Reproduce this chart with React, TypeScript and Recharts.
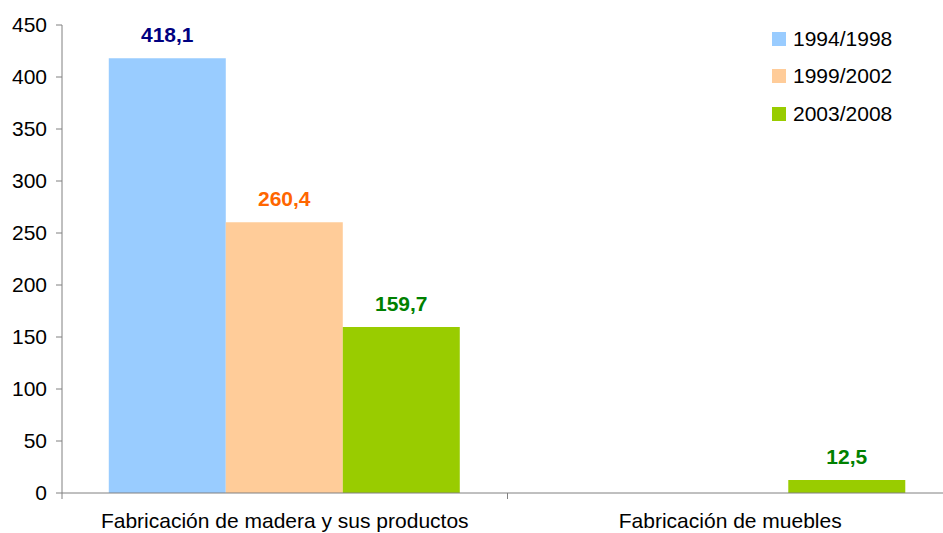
import React from "react";
import { Bar, BarChart, LabelList, XAxis, YAxis } from "recharts";

const categories = ["Fabricación de madera y sus productos", "Fabricación de muebles"];
const serie1994 = [418.1, null];
const serie1999 = [260.4, null];
const serie2003 = [159.7, 12.5];
const yTicks = [0, 50, 100, 150, 200, 250, 300, 350, 400, 450];

const series = [
  { key: "s1", name: "1994/1998", values: serie1994, fill: "#99CCFF", label: "#000080" },
  { key: "s2", name: "1999/2002", values: serie1999, fill: "#FFCC99", label: "#FF6600" },
  { key: "s3", name: "2003/2008", values: serie2003, fill: "#99CC00", label: "#008000" },
];

const data = categories.map((name, i) => {
  const row: any = { name };
  series.forEach((s) => (row[s.key] = s.values[i]));
  return row;
});

const FONT = "'Liberation Sans', Arial, sans-serif";
const W = 943;
const H = 533;
const LEFT = 62;
// plot runs a bit past the right edge, like the original
const RIGHT_M = -10;
const band = (W - LEFT - RIGHT_M) / categories.length;

const CatTick = ({ x, y, payload, index }: any) => (
  <g>
    <line x1={x - band / 2} x2={x - band / 2} y1={y - 8} y2={y - 2} stroke="#808080" />
    {index === categories.length - 1 && (
      <line x1={x + band / 2} x2={x + band / 2} y1={y - 8} y2={y - 2} stroke="#808080" />
    )}
    <text x={x} y={y + 27} textAnchor="middle" fontSize={21} fill="#000" fontFamily={FONT}>
      {payload.value}
    </text>
  </g>
);

const fmt = (v: any) => (v == null ? "" : String(v).replace(".", ","));

const App = () => (
  <div style={{ position: "absolute", left: 0, top: 0, width: W, height: H, overflow: "hidden" }}>
    <BarChart
      width={W}
      height={H}
      data={data}
      margin={{ top: 25, right: RIGHT_M, left: 0, bottom: 0 }}
      barCategoryGap="10.5%"
      barGap={0}
    >
      <XAxis
        dataKey="name"
        height={40}
        tickLine={false}
        axisLine={{ stroke: "#808080" }}
        tick={<CatTick />}
        interval={0}
      />
      <YAxis
        width={LEFT}
        domain={[0, 450]}
        ticks={yTicks}
        tickSize={6}
        tickMargin={9}
        axisLine={{ stroke: "#808080" }}
        tickLine={{ stroke: "#808080" }}
        tick={{ fontSize: 21, fill: "#000", fontFamily: FONT }}
        interval={0}
      />
      {series.map((s) => (
        <Bar key={s.key} dataKey={s.key} name={s.name} fill={s.fill} isAnimationActive={false}>
          <LabelList
            dataKey={s.key}
            position="top"
            offset={16}
            formatter={fmt}
            style={{ fill: s.label, fontSize: 21, fontWeight: "bold", fontFamily: FONT }}
          />
        </Bar>
      ))}
    </BarChart>
    <div
      style={{
        position: "absolute",
        left: 772,
        top: 20,
        fontFamily: FONT,
        fontSize: 21,
        color: "#000",
      }}
    >
      {series.map((s) => (
        <div key={s.key} style={{ display: "flex", alignItems: "center", height: 37.5 }}>
          <span style={{ width: 14, height: 14, background: s.fill, marginRight: 7 }} />
          {s.name}
        </div>
      ))}
    </div>
  </div>
);

export default App;
